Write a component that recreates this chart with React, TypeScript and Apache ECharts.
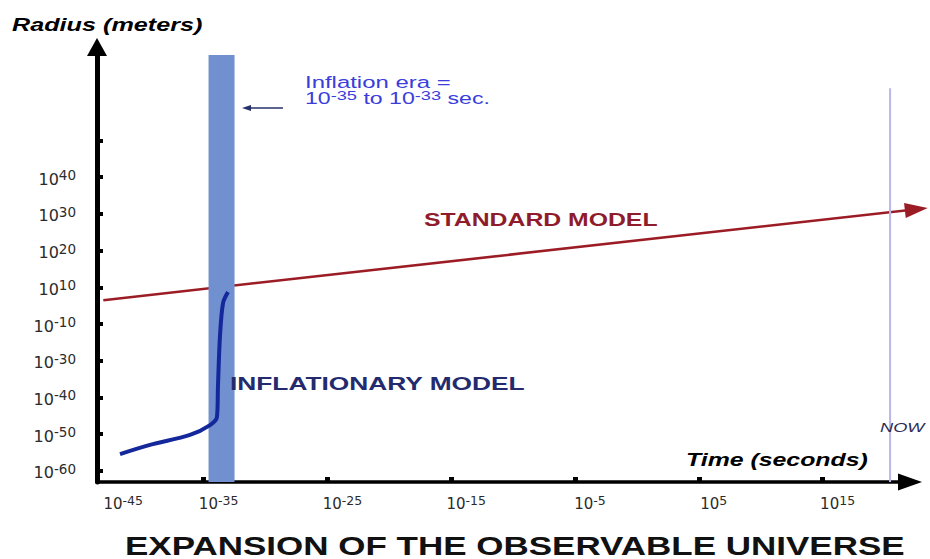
import React, { useEffect, useRef } from 'react';
import * as echarts from 'echarts';

// ---- Axis tick values (log10 of metres / seconds) ----
const Y_TICK_EXP = [-60, -50, -40, -30, -10, 10, 20, 30, 40];
const Y_EXTRA_TICKS = 1; // unlabeled tick above 10^40
const X_TICK_EXP = [-35, -25, -15, -5, 5, 15];
const X_LABEL_EXP = [-45, -35, -25, -15, -5, 5, 15];

// ---- Standard model (log10 t [s], log10 R [m]) ----
const STANDARD_T = [-43.1, 23.5];
const STANDARD_R = [3, 31.6];

// ---- Inflationary model ----
const INFLATION_T = [-41.75, -39.33, -36.1, -34.48, -33.92, -33.84, -33.68, -33.43, -33.03];
const INFLATION_R = [-55.4, -52.9, -50.2, -47.5, -45.3, -37.1, -17, 1.4, 7.4];

// ---- Inflation era band and "now" ----
const INFLATION_ERA = [-34.6, -32.5];
const NOW_T = 20.45;

// ---- layout constants (axis positions) ----
const X_MIN = -43.61;
const X_MAX = 22.06;
const Y_MIN = -0.3;
const Y_MAX = 11.54;
const BAND_TOP_POS = 11.32;
const NOW_TOP_POS = 10.42;

// schematic (non-uniform) radius axis: map exponent -> tick position
function expToPos(e: number): number {
  const t = Y_TICK_EXP;
  const n = t.length;
  if (e <= t[0]) return (e - t[0]) / (t[1] - t[0]);
  for (let i = 0; i < n - 1; i++) {
    if (e <= t[i + 1]) return i + (e - t[i]) / (t[i + 1] - t[i]);
  }
  return n - 1 + (e - t[n - 1]) / (t[n - 1] - t[n - 2]);
}

const LABEL_FONT = 'DejaVu Sans';
const TEXT_FONT = 'Liberation Sans, Arial, sans-serif';

export default function App() {
  const ref = useRef<HTMLDivElement>(null);

  useEffect(() => {
    if (!ref.current) return;
    const chart = echarts.init(ref.current, undefined, { renderer: 'svg' });

    const yTickPos = Y_TICK_EXP.map((_, i) => i).concat(
      Array.from({ length: Y_EXTRA_TICKS }, (_, k) => Y_TICK_EXP.length + k)
    );
    const yLabelPos = Y_TICK_EXP.map((_, i) => i);
    const xLabelPos = X_LABEL_EXP.map((e) => Math.max(e, X_MIN + 0.02));

    const standardData = STANDARD_T.map((t, i) => {
      const item: any = { value: [t, expToPos(STANDARD_R[i])] };
      if (i < STANDARD_T.length - 1) item.symbol = 'none';
      return item;
    });
    const inflationData = INFLATION_T.map((t, i) => [t, expToPos(INFLATION_R[i])]);

    const option: any = {
      animation: false,
      backgroundColor: '#ffffff',
      grid: { left: 97, right: 20, top: 47, bottom: 77, containLabel: false, outerBoundsMode: 'none' },
      xAxis: {
        type: 'value',
        min: X_MIN,
        max: X_MAX,
        splitLine: { show: false },
        axisLine: {
          show: true,
          onZero: false,
          symbol: ['none', 'triangle'],
          symbolSize: [17, 24],
          lineStyle: { color: '#000', width: 3.5 },
        },
        axisTick: {
          show: true,
          inside: true,
          length: 5,
          customValues: X_TICK_EXP,
          lineStyle: { color: '#000', width: 5 },
        },
        axisLabel: {
          show: true,
          customValues: xLabelPos,
          margin: 12,
          padding: [0, 0, 0, 30],
          formatter: (v: number) => {
            if (v <= X_MIN + 0.05) return `{f|10}{s|${X_LABEL_EXP[0]}}`;
            return `{b|10}{s|${Math.round(v)}}`;
          },
          rich: {
            b: { fontFamily: LABEL_FONT, fontSize: 15, color: '#2b2b2b', lineHeight: 17, verticalAlign: 'bottom', padding: [6, 0, 0, 0] },
            f: { fontFamily: LABEL_FONT, fontSize: 15, color: '#2b2b2b', lineHeight: 17, verticalAlign: 'bottom', padding: [6, 0, 0, 22] },
            s: { fontFamily: LABEL_FONT, fontSize: 12.5, color: '#2b2b2b', lineHeight: 13, verticalAlign: 'top' },
          },
        },
      },
      yAxis: {
        type: 'value',
        min: Y_MIN,
        max: Y_MAX,
        splitLine: { show: false },
        axisLine: {
          show: true,
          onZero: false,
          symbol: ['none', 'triangle'],
          symbolSize: [20, 18],
          lineStyle: { color: '#000', width: 5 },
        },
        axisTick: {
          show: true,
          inside: true,
          length: 6,
          customValues: yTickPos,
          lineStyle: { color: '#000', width: 4 },
        },
        axisLabel: {
          show: true,
          customValues: yLabelPos,
          margin: 21,
          formatter: (v: number) => `{b|10}{s|${Y_TICK_EXP[Math.round(v)]}}`,
          rich: {
            b: { fontFamily: LABEL_FONT, fontSize: 16, color: '#2b2b2b', lineHeight: 20, verticalAlign: 'bottom', padding: [6, 0, 0, 0] },
            s: { fontFamily: LABEL_FONT, fontSize: 13.5, color: '#2b2b2b', lineHeight: 13, verticalAlign: 'top', padding: [1, 0, 0, 0] },
          },
        },
      },
      series: [
        {
          name: 'Standard model',
          type: 'line',
          z: 2,
          clip: false,
          data: standardData,
          symbol: 'triangle',
          symbolSize: [15, 23],
          symbolRotate: -83.6,
          symbolOffset: [-11.5, 1.3],
          showSymbol: true,
          lineStyle: { color: '#9c1c25', width: 2.5 },
          itemStyle: { color: '#9c1c25', borderWidth: 0 },
          silent: true,
        },
        {
          name: 'Now',
          type: 'line',
          z: 3,
          clip: false,
          symbol: 'none',
          data: [
            [NOW_T, Y_MIN],
            [NOW_T, NOW_TOP_POS],
          ],
          lineStyle: { color: '#b8b8ea', width: 2 },
          silent: true,
          markArea: {
            silent: true,
            z: 3,
            itemStyle: { color: '#7190cf', opacity: 1 },
            label: { show: false },
            data: [[{ xAxis: INFLATION_ERA[0], yAxis: Y_MIN }, { xAxis: INFLATION_ERA[1], yAxis: BAND_TOP_POS }]],
          },
        },
        {
          name: 'Inflationary model',
          type: 'line',
          z: 4,
          smooth: 0.3,
          symbol: 'none',
          data: inflationData,
          lineStyle: { color: '#14289b', width: 4 },
          silent: true,
        },
      ],
      graphic: [
        {
          type: 'text', x: 12, y: 24.5, scaleX: 1.44, z: 10,
          style: { text: 'Radius (meters)', fontFamily: TEXT_FONT, fontSize: 17.5, fontWeight: 'bold', fontStyle: 'italic', fill: '#000', verticalAlign: 'middle', align: 'left' },
        },
        {
          type: 'text', x: 305, y: 82, scaleX: 1.45, z: 10,
          style: { text: 'Inflation era =', fontFamily: TEXT_FONT, fontSize: 16.5, fill: '#3a3ddc', verticalAlign: 'middle', align: 'left' },
        },
        {
          type: 'text', x: 305, y: 98, scaleX: 1.4, z: 10,
          style: {
            text: '{b|10}{s|-35}{b| to 10}{s|-33}{b| sec.}',
            verticalAlign: 'middle', align: 'left',
            rich: {
              b: { fontFamily: TEXT_FONT, fontSize: 16.5, fill: '#3a3ddc', lineHeight: 18, verticalAlign: 'bottom', padding: [4, 0, 0, 0] },
              s: { fontFamily: TEXT_FONT, fontSize: 13, fill: '#3a3ddc', lineHeight: 13, verticalAlign: 'top' },
            },
          },
        },
        {
          type: 'line', z: 10,
          shape: { x1: 283, y1: 108, x2: 248, y2: 108 },
          style: { stroke: '#26306b', lineWidth: 1.5 },
        },
        {
          type: 'polygon', z: 10,
          shape: { points: [[242, 108], [251, 105], [251, 111]] },
          style: { fill: '#26306b' },
        },
        {
          type: 'text', x: 424, y: 220, scaleX: 1.34, z: 10,
          style: { text: 'STANDARD MODEL', fontFamily: TEXT_FONT, fontSize: 18.5, fontWeight: 'bold', fill: '#8e1c2c', verticalAlign: 'middle', align: 'left' },
        },
        {
          type: 'text', x: 230, y: 383.5, scaleX: 1.385, z: 10,
          style: { text: 'INFLATIONARY MODEL', fontFamily: TEXT_FONT, fontSize: 19, fontWeight: 'bold', fill: '#232b6e', verticalAlign: 'middle', align: 'left' },
        },
        {
          type: 'text', x: 686, y: 460, scaleX: 1.42, z: 10,
          style: { text: 'Time (seconds)', fontFamily: TEXT_FONT, fontSize: 17.5, fontWeight: 'bold', fontStyle: 'italic', fill: '#000', verticalAlign: 'middle', align: 'left' },
        },
        {
          type: 'text', x: 880, y: 427.5, scaleX: 1.4, z: 10,
          style: { text: 'NOW', fontFamily: TEXT_FONT, fontSize: 13, fontStyle: 'italic', fill: '#2b2b55', verticalAlign: 'middle', align: 'left' },
        },
        {
          type: 'text', x: 125, y: 545.5, scaleX: 1.4, z: 10,
          style: { text: 'EXPANSION OF THE OBSERVABLE UNIVERSE', fontFamily: TEXT_FONT, fontSize: 25, fontWeight: 'bold', fill: '#111', verticalAlign: 'middle', align: 'left' },
        },
      ],
    };

    chart.setOption(option);
    return () => {
      chart.dispose();
    };
  }, []);

  return (
    <div
      ref={ref}
      style={{ position: 'absolute', left: 0, top: 0, width: 930, height: 559, background: '#fff' }}
    />
  );
}
